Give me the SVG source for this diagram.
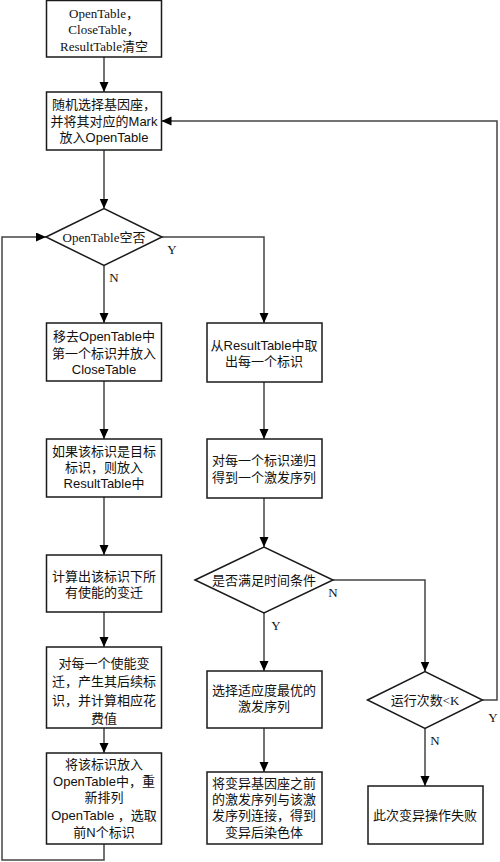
<svg xmlns="http://www.w3.org/2000/svg" width="500" height="862" viewBox="0 0 500 862">
<defs>
<marker id="arr" markerUnits="userSpaceOnUse" markerWidth="10" markerHeight="10" refX="10" refY="4.5" orient="auto">
<path d="M0,0 L10,4.5 L0,9 z" fill="#000"/>
</marker>
<style>
.box{fill:#fff;stroke:#1a1a1a;stroke-width:1.5}
.c{fill:none;stroke:#444;stroke-width:1.5}
.a{marker-end:url(#arr)}
text{font-size:13px;fill:#111;text-anchor:middle}
.s{font-family:"Liberation Sans","Noto Sans CJK SC",sans-serif}
.r{font-family:"Liberation Serif","Noto Sans CJK SC",serif}
</style>
</defs>
<rect width="500" height="862" fill="#fff"/>
<g id="connectors">
<path class="c a" d="M104,57 V92"/>
<path class="c a" d="M104,150 V208.5"/>
<path class="c a" d="M104,265.5 V323"/>
<path class="c a" d="M162,237 H264 V323"/>
<path class="c a" d="M104,381 V439"/>
<path class="c a" d="M104,497 V555"/>
<path class="c a" d="M104,612 V647"/>
<path class="c a" d="M104,728 V753"/>
<path class="c a" d="M104,844 V860 H2 V237 H46"/>
<path class="c a" d="M264,382 V439"/>
<path class="c a" d="M264,498 V547"/>
<path class="c a" d="M264,613 V671"/>
<path class="c a" d="M264,728 V772"/>
<path class="c a" d="M333,580 H425 V671.5"/>
<path class="c a" d="M425,728.5 V786"/>
<path class="c a" d="M482.5,700 H497 V121 H161.5"/>
<text class="r" x="172" y="254">Y</text>
<text class="r" x="114" y="282">N</text>
<text class="r" x="333" y="597">N</text>
<text class="r" x="276" y="630">Y</text>
<text class="r" x="493" y="722">Y</text>
<text class="r" x="435" y="745">N</text>
</g>
<g id="b1">
<rect class="box" x="46.5" y="0.5" width="115" height="56.5"/>
<text class="r" x="104" y="18">OpenTable，</text>
<text class="r" x="104" y="34">CloseTable，</text>
<text class="r" x="104" y="51">ResultTable清空</text>
</g>
<g id="b2">
<rect class="box" x="46.5" y="92" width="115" height="58"/>
<text class="s" x="104" y="109">随机选择基因座，</text>
<text class="s" x="104" y="126">并将其对应的Mark</text>
<text class="s" x="104" y="142">放入OpenTable</text>
</g>
<g id="d1">
<polygon class="box" points="46,237 104,208.5 162,237 104,265.5"/>
<text class="r" x="104" y="242">OpenTable空否</text>
</g>
<g id="b3">
<rect class="box" x="46.5" y="323" width="115" height="58"/>
<text class="s" x="104" y="341">移去OpenTable中</text>
<text class="s" x="104" y="358">第一个标识并放入</text>
<text class="s" x="104" y="374">CloseTable</text>
</g>
<g id="b4">
<rect class="box" x="46.5" y="439" width="115" height="58"/>
<text class="s" x="104" y="456">如果该标识是目标</text>
<text class="s" x="104" y="472">标识，则放入</text>
<text class="s" x="104" y="488">ResultTable中</text>
</g>
<g id="b5">
<rect class="box" x="46.5" y="555" width="115" height="57"/>
<text class="s" x="104" y="581">计算出该标识下所</text>
<text class="s" x="104" y="597">有使能的变迁</text>
</g>
<g id="b6">
<rect class="box" x="46.5" y="647" width="115" height="81"/>
<text class="s" x="104" y="668">对每一个使能变</text>
<text class="s" x="104" y="686">迁，产生其后续标</text>
<text class="s" x="104" y="705">识，并计算相应花</text>
<text class="s" x="104" y="723">费值</text>
</g>
<g id="b7">
<rect class="box" x="46.5" y="753" width="115" height="91"/>
<text class="s" x="104" y="769">将该标识放入</text>
<text class="s" x="104" y="786">OpenTable中，重</text>
<text class="s" x="104" y="802">新排列</text>
<text class="s" x="104" y="820">OpenTable ，选取</text>
<text class="s" x="104" y="837">前N个标识</text>
</g>
<g id="r1">
<rect class="box" x="207" y="323" width="115" height="59"/>
<text class="s" x="264" y="350">从ResultTable中取</text>
<text class="s" x="264" y="366">出每一个标识</text>
</g>
<g id="r2">
<rect class="box" x="207" y="439" width="115" height="59"/>
<text class="s" x="264" y="465">对每一个标识递归</text>
<text class="s" x="264" y="482">得到一个激发序列</text>
</g>
<g id="d2">
<polygon class="box" points="195,580 264,547 333,580 264,613"/>
<text class="s" x="264" y="585">是否满足时间条件</text>
</g>
<g id="r3">
<rect class="box" x="207" y="671" width="115" height="57"/>
<text class="s" x="264" y="695">选择适应度最优的</text>
<text class="s" x="264" y="711">激发序列</text>
</g>
<g id="r4">
<rect class="box" x="207" y="772" width="115" height="72"/>
<text class="s" x="264" y="788">将变异基因座之前</text>
<text class="s" x="264" y="804">的激发序列与该激</text>
<text class="s" x="264" y="820">发序列连接，得到</text>
<text class="s" x="264" y="837">变异后染色体</text>
</g>
<g id="d3">
<polygon class="box" points="367.5,700 425,671.5 482.5,700 425,728.5"/>
<text class="r" x="425" y="705">运行次数&lt;K</text>
</g>
<g id="r5">
<rect class="box" x="368" y="786" width="115" height="58"/>
<text class="s" x="425" y="820">此次变异操作失败</text>
</g>
</svg>
